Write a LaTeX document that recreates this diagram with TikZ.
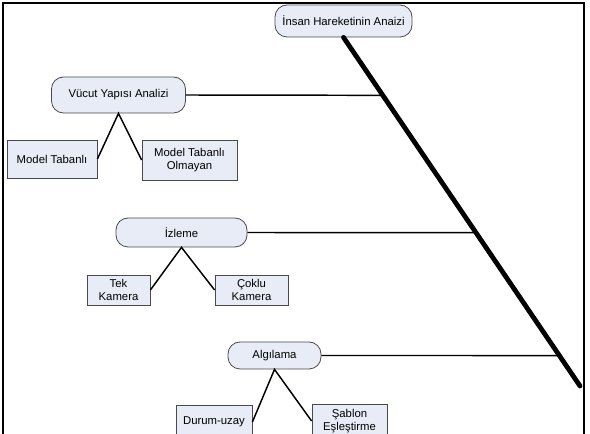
\documentclass[tikz,border=0pt]{standalone}
\usepackage{fontspec}
\setmainfont{Liberation Sans}
\usetikzlibrary{calc}
\definecolor{boxfill}{HTML}{E8ECF6}
\definecolor{boxline}{HTML}{4A4A4A}
\begin{document}
\begin{tikzpicture}[x=0.75pt,y=-0.75pt,
  every node/.style={font=\fontsize{8.5}{10}\selectfont, align=center, inner sep=1pt},
  roundbox/.style={draw=boxline, fill=boxfill, line width=0.6pt, rounded corners=9pt},
  plainbox/.style={draw=boxline, fill=boxfill, line width=0.6pt},
  link/.style={draw=black, line width=1.1pt},
  spine/.style={draw=black, line width=3.6pt}]
\useasboundingbox (0,0) rectangle (590,434);
\clip (0,0) rectangle (590,434);
% frame
\draw[line width=1.5pt] (3,440) -- (3,3) -- (584,3) -- (584,440);
% nodes
\node[roundbox, minimum width=137*0.75pt, minimum height=32*0.75pt] (top) at (343.5,21) {İnsan Hareketinin Anaizi};
\node[roundbox, minimum width=134*0.75pt, minimum height=36*0.75pt] (vucut) at (118.5,95) {Vücut Yapısı Analizi};
\node[plainbox, minimum width=90*0.75pt, minimum height=38*0.75pt] (mt) at (52,159) {Model Tabanlı};
\node[plainbox, minimum width=95*0.75pt, minimum height=40*0.75pt] (mto) at (189.5,160) {Model Tabanlı\\Olmayan};
\node[roundbox, minimum width=131*0.75pt, minimum height=29*0.75pt] (izleme) at (181.5,232.5) {İzleme};
\node[plainbox, minimum width=63*0.75pt, minimum height=30*0.75pt] (tek) at (118.5,290) {Tek\\Kamera};
\node[plainbox, minimum width=73*0.75pt, minimum height=30*0.75pt] (coklu) at (251.5,290) {Çoklu\\Kamera};
\node[roundbox, minimum width=93*0.75pt, minimum height=27*0.75pt] (algilama) at (274.5,355.5) {Algılama};
\node[plainbox, minimum width=76*0.75pt, minimum height=34*0.75pt] (durum) at (214,422) {Durum-uzay};
\node[plainbox, minimum width=75*0.75pt, minimum height=34*0.75pt] (sablon) at (349.5,421) {Şablon\\Eşleştirme};
% spine
\coordinate (sA) at (top.south);
\coordinate (sB) at (580,386);
\coordinate (j1) at ($(sA)!{(95-37)/349}!(sB)$);
\coordinate (j2) at ($(sA)!{(232.5-37)/349}!(sB)$);
\coordinate (j3) at ($(sA)!{(355.5-37)/349}!(sB)$);
\draw[spine, line cap=round] (sA) -- (sB);
% branches
\draw[link] (vucut.east) -- (j1);
\draw[link] (izleme.east) -- (j2);
\draw[link] (algilama.east) -- (j3);
% children
\draw[link] (mt.east) -- (vucut.south) -- (mto.west);
\draw[link] (tek.east) -- (izleme.south) -- (coklu.west);
\draw[link] (durum.east) -- (algilama.south) -- (sablon.west);
\end{tikzpicture}
\end{document}
